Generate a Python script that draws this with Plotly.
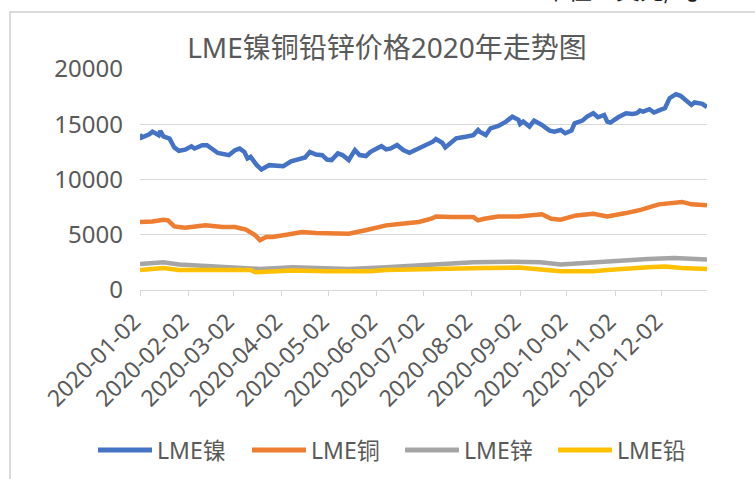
import plotly.graph_objects as go

# ---------------- data ----------------
nickel_dates = [
    "2020-01-02", "2020-01-03", "2020-01-08", "2020-01-10", "2020-01-14", "2020-01-15",
    "2020-01-17", "2020-01-21", "2020-01-24", "2020-01-27", "2020-01-31", "2020-02-04",
    "2020-02-06", "2020-02-11", "2020-02-14", "2020-02-18", "2020-02-21", "2020-02-28",
    "2020-03-03", "2020-03-06", "2020-03-09", "2020-03-11", "2020-03-13", "2020-03-17",
    "2020-03-20", "2020-03-25", "2020-03-30", "2020-04-03", "2020-04-08", "2020-04-14",
    "2020-04-17", "2020-04-20", "2020-04-24", "2020-04-28", "2020-05-01", "2020-05-04",
    "2020-05-08", "2020-05-11", "2020-05-15", "2020-05-19", "2020-05-22", "2020-05-26",
    "2020-05-29", "2020-06-02", "2020-06-05", "2020-06-08", "2020-06-11", "2020-06-15",
    "2020-06-19", "2020-06-23", "2020-06-29", "2020-07-03", "2020-07-08", "2020-07-10",
    "2020-07-14", "2020-07-16", "2020-07-20", "2020-07-23", "2020-07-29", "2020-08-03",
    "2020-08-06", "2020-08-07", "2020-08-11", "2020-08-14", "2020-08-19", "2020-08-24",
    "2020-08-28", "2020-09-01", "2020-09-02", "2020-09-04", "2020-09-08", "2020-09-11",
    "2020-09-16", "2020-09-21", "2020-09-24", "2020-09-28", "2020-10-01", "2020-10-05",
    "2020-10-07", "2020-10-12", "2020-10-15", "2020-10-19", "2020-10-22", "2020-10-26",
    "2020-10-28", "2020-10-30", "2020-11-04", "2020-11-09", "2020-11-13", "2020-11-16",
    "2020-11-18", "2020-11-20", "2020-11-24", "2020-11-27", "2020-12-01", "2020-12-04",
    "2020-12-07", "2020-12-11", "2020-12-14", "2020-12-17", "2020-12-21", "2020-12-23",
    "2020-12-28", "2020-12-31",
]
nickel_values = [
    14100, 13800, 14100, 14330, 14000, 14400,
    13900, 13700, 12900, 12600, 12700, 13000,
    12800, 13100, 13100, 12700, 12400, 12200,
    12650, 12800, 12500, 11900, 12050, 11300,
    10900, 11300, 11200, 11200, 11650, 11850,
    12000, 12500, 12260, 12200, 11800, 11760,
    12360, 12210, 11760, 12660, 12210, 12120,
    12510, 12810, 13020, 12720, 12810, 13120,
    12660, 12420, 12810, 13120, 13420, 13660,
    13330, 12900, 13330, 13720, 13870, 14020,
    14480, 14330, 14020, 14630, 14840, 15240,
    15690, 15400, 15030, 15240, 14790, 15330,
    14940, 14420, 14330, 14480, 14180, 14420,
    15090, 15330, 15690, 16000, 15630, 15840,
    15240, 15150, 15630, 16000, 15930, 16000,
    16240, 16150, 16360, 16060, 16300, 16450,
    17360, 17720, 17570, 17270, 16750, 16970,
    16850, 16550,
]

copper_dates = [
    "2020-01-02", "2020-01-10", "2020-01-17", "2020-01-20", "2020-01-24", "2020-01-31",
    "2020-02-13", "2020-02-24", "2020-03-03", "2020-03-10", "2020-03-16", "2020-03-19",
    "2020-03-23", "2020-03-27", "2020-04-06", "2020-04-15", "2020-04-24", "2020-05-01",
    "2020-05-15", "2020-05-25", "2020-06-02", "2020-06-08", "2020-06-18", "2020-06-29",
    "2020-07-07", "2020-07-10", "2020-07-20", "2020-08-03", "2020-08-06", "2020-08-10",
    "2020-08-19", "2020-09-01", "2020-09-16", "2020-09-22", "2020-09-28", "2020-10-08",
    "2020-10-19", "2020-10-28", "2020-11-09", "2020-11-19", "2020-11-30", "2020-12-10",
    "2020-12-15", "2020-12-21", "2020-12-31",
]
copper_values = [
    6150, 6200, 6360, 6300, 5750, 5640,
    5850, 5700, 5700, 5460, 4950, 4500,
    4790, 4790, 5030, 5240, 5150, 5150,
    5090, 5390, 5700, 5850, 6000, 6150,
    6450, 6660, 6600, 6600, 6300, 6450,
    6660, 6660, 6850, 6450, 6360, 6750,
    6900, 6660, 6960, 7270, 7750, 7880,
    7970, 7750, 7660,
]

zinc_dates = [
    "2020-01-02", "2020-01-17", "2020-01-27", "2020-02-28", "2020-03-19", "2020-04-09",
    "2020-05-01", "2020-05-15", "2020-06-08", "2020-07-06", "2020-08-03", "2020-08-28",
    "2020-09-15", "2020-09-28", "2020-10-19", "2020-11-04", "2020-11-23", "2020-12-10",
    "2020-12-31",
]
zinc_values = [
    2360, 2510, 2300, 2060, 1910, 2060,
    2000, 1910, 2060, 2300, 2510, 2560,
    2510, 2300, 2510, 2660, 2810, 2900,
    2750,
]

lead_dates = [
    "2020-01-02", "2020-01-17", "2020-01-27", "2020-03-13", "2020-03-16", "2020-03-30",
    "2020-04-09", "2020-05-01", "2020-05-29", "2020-06-08", "2020-07-06", "2020-07-10",
    "2020-08-10", "2020-09-01", "2020-09-15", "2020-09-28", "2020-10-19", "2020-10-28",
    "2020-11-23", "2020-12-04", "2020-12-15", "2020-12-31",
]
lead_values = [
    1820, 2000, 1820, 1820, 1600, 1700,
    1760, 1700, 1700, 1820, 1910, 2000,
    2000, 2030, 1910, 1700, 1700, 1820,
    2060, 2120, 2000, 1910,
]

series_names = ["LME镍", "LME铜", "LME锌", "LME铅"]
series_colors = ["#4472C4", "#ED7D31", "#A5A5A5", "#FFC000"]
title_text = "LME镍铜铅锌价格2020年走势图"
unit_text = "单位：美元/吨"
y_ticks = [0, 5000, 10000, 15000, 20000]

# ---------------- figure ----------------
FONT = "Noto Sans, Noto Sans CJK SC"
TXT = "#595959"
W, H = 755, 479
ML, MR, MT, MB = 140, 48, 69, 189
PW, PH = W - ML - MR, H - MT - MB


def px_x(p):
    return (p - ML) / PW


def px_y(p):
    return (H - MB - p) / PH


fig = go.Figure()
all_series = [
    (nickel_dates, nickel_values),
    (copper_dates, copper_values),
    (zinc_dates, zinc_values),
    (lead_dates, lead_values),
]
for (d, v), name, col in zip(all_series, series_names, series_colors):
    fig.add_trace(go.Scatter(
        x=d, y=v, name=name, mode="lines",
        line=dict(color=col, width=4.5),
        showlegend=False,
    ))

shapes = []
annotations = []

# chart-area border
shapes.append(dict(
    type="rect", xref="paper", yref="paper",
    x0=px_x(10), x1=px_x(W + 20), y0=px_y(H + 20), y1=px_y(12),
    line=dict(color="#D0D0D0", width=1.5), fillcolor="rgba(0,0,0,0)", layer="below",
))

# custom legend
leg_y = px_y(450)
leg_starts = [98, 252, 405, 558]
for name, col, x0 in zip(series_names, series_colors, leg_starts):
    shapes.append(dict(
        type="line", xref="paper", yref="paper",
        x0=px_x(x0), x1=px_x(x0 + 54), y0=leg_y, y1=leg_y,
        line=dict(color=col, width=5),
    ))
    annotations.append(dict(
        text=name, xref="paper", yref="paper", x=px_x(x0 + 57), y=leg_y,
        xanchor="left", yanchor="middle", showarrow=False,
        font=dict(family=FONT, size=23, color=TXT),
    ))

# unit text (cut off at the top like the reference)
annotations.append(dict(
    text=unit_text, xref="paper", yref="paper", x=px_x(620), y=px_y(-11),
    xanchor="center", yanchor="middle", showarrow=False,
    font=dict(family="Noto Sans CJK SC", size=24, color="#222222"),
))

fig.update_layout(
    width=W, height=H,
    margin=dict(l=ML, r=MR, t=MT, b=MB, autoexpand=False),
    paper_bgcolor="white", plot_bgcolor="white",
    title=dict(
        text=title_text, x=px_x(387), xref="paper", xanchor="center",
        y=1 - 48 / H, yref="container", yanchor="middle",
        font=dict(family=FONT, size=28, color=TXT),
    ),
    font=dict(family=FONT, color=TXT),
    showlegend=False,
    shapes=shapes,
    annotations=annotations,
    xaxis=dict(
        type="date",
        range=["2020-01-02", "2020-12-31"],
        tick0="2020-01-02", dtick="M1", tickformat="%Y-%m-%d",
        tickangle=-45,
        ticks="outside", ticklen=5, tickcolor="#D9D9D9", tickwidth=1,
        showline=True, linecolor="#D9D9D9", linewidth=1,
        showgrid=False, zeroline=False,
        ticklabelstandoff=3, ticklabelshift=-6,
        tickfont=dict(family=FONT, size=23, color=TXT),
        automargin=False,
    ),
    yaxis=dict(
        range=[0, 20000],
        tickvals=y_ticks,
        ticktext=[str(t) for t in y_ticks],
        showgrid=True, gridcolor="#D9D9D9", gridwidth=1,
        zeroline=False, showline=False, ticks="",
        ticklabelstandoff=16,
        tickfont=dict(family=FONT, size=24, color=TXT),
        automargin=False,
    ),
)

fig.write_html(
    "out.html",
    config={"displayModeBar": False},
    post_script="document.body.style.margin='0';document.body.style.overflow='hidden';",
)
